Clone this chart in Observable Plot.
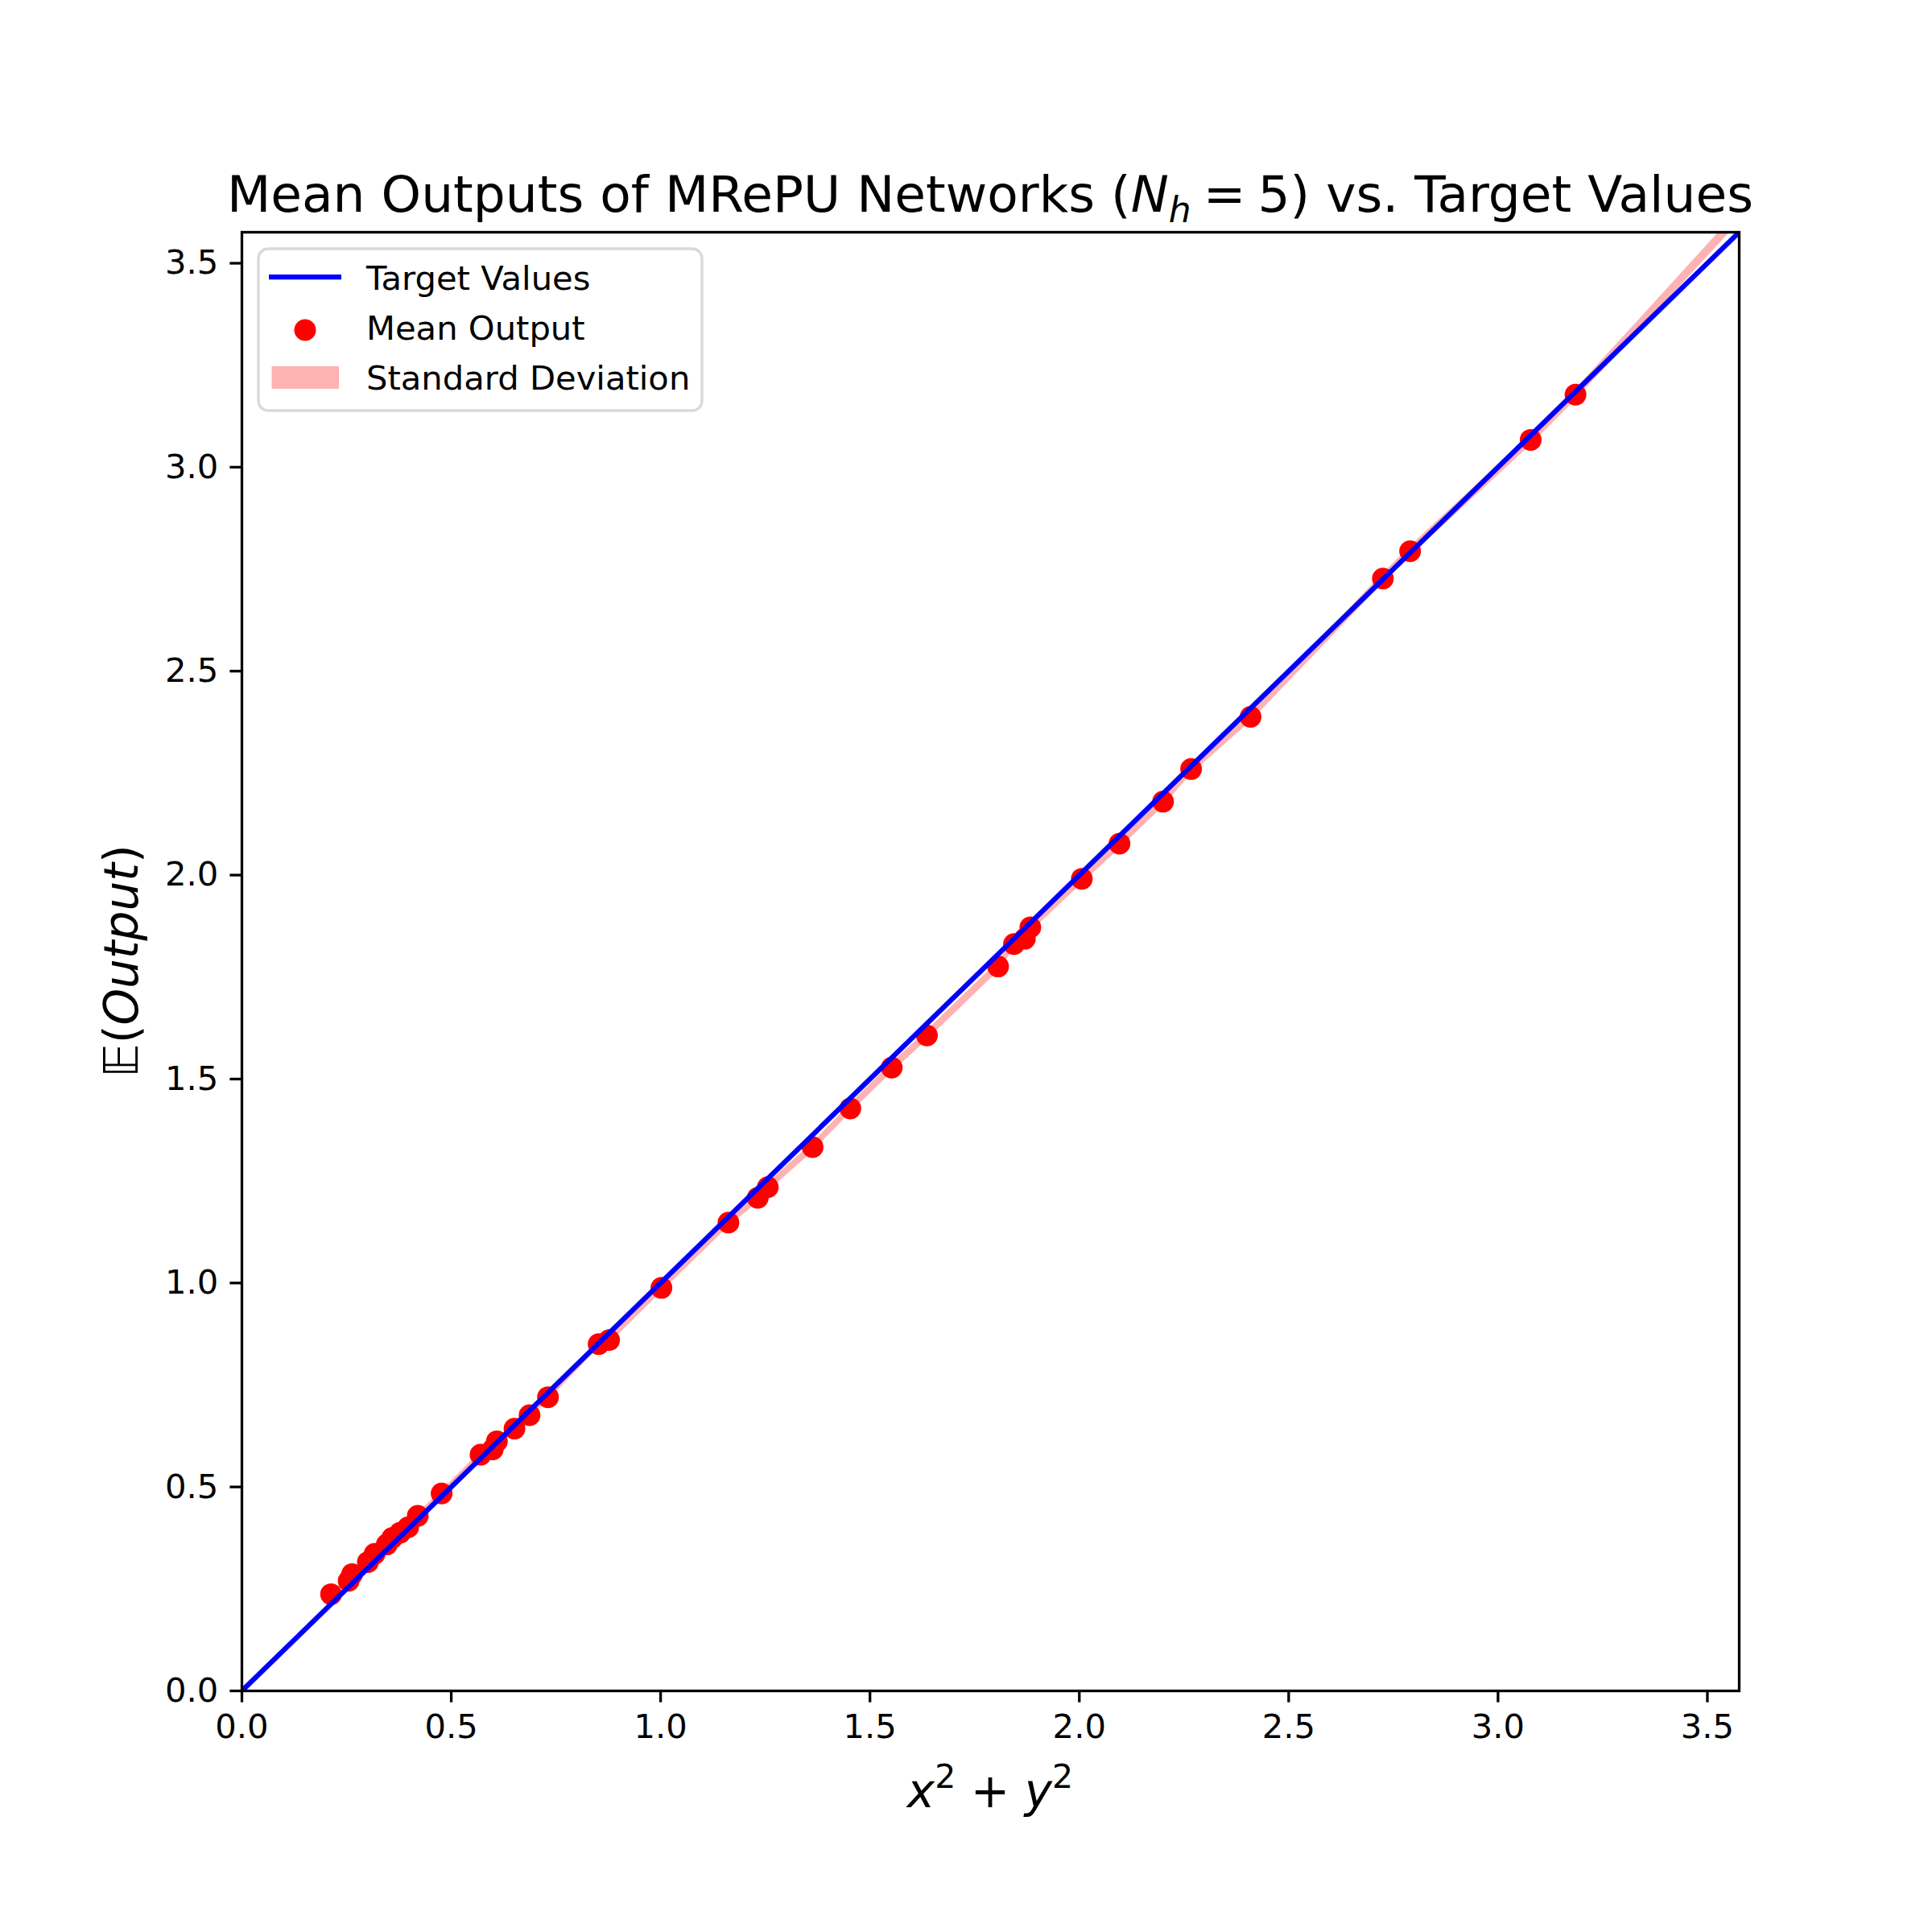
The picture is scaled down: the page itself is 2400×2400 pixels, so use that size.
<!DOCTYPE html>
<html><head><meta charset="utf-8">
<script src="https://cdn.jsdelivr.net/npm/d3@7"></script>
<script src="https://cdn.jsdelivr.net/npm/@observablehq/plot@0.6"></script>
<style>
html,body{margin:0;padding:0;background:#fff;}
#chart{position:relative;width:2400px;height:2400px;}
</style></head><body><div id="chart"></div>
<script>
// Target values (x^2 + y^2), sorted
const targets = [0.213,0.255,0.263,0.301,0.317,0.346,0.359,0.378,0.397,0.420,0.477,0.570,0.599,0.609,0.651,0.687,0.731,0.852,0.877,1.002,1.162,1.232,1.256,1.363,1.453,1.552,1.636,1.806,1.844,1.870,1.883,2.006,2.096,2.200,2.267,2.409,2.725,2.790,3.078,3.185,3.750];
// Mean network outputs
const means = [0.237,0.270,0.286,0.316,0.336,0.359,0.375,0.388,0.401,0.429,0.484,0.579,0.592,0.612,0.643,0.676,0.720,0.850,0.860,0.988,1.148,1.209,1.235,1.333,1.428,1.528,1.607,1.776,1.831,1.844,1.872,1.991,2.077,2.180,2.260,2.388,2.727,2.794,3.067,3.178,3.811];
// Standard deviations of outputs
const stds = [0.006,0.006,0.007,0.006,0.007,0.006,0.007,0.006,0.007,0.007,0.007,0.008,0.008,0.008,0.008,0.008,0.009,0.009,0.009,0.010,0.010,0.011,0.011,0.011,0.011,0.012,0.012,0.012,0.012,0.012,0.012,0.012,0.012,0.012,0.012,0.012,0.012,0.012,0.013,0.013,0.016];
const targetLine = [0, 3.75];
const xTicks = [0, 0.5, 1.0, 1.5, 2.0, 2.5, 3.0, 3.5];
const yTicks = [0, 0.5, 1.0, 1.5, 2.0, 2.5, 3.0, 3.5];
const xDomain = [0, 3.576];
const yDomain = [0, 3.576];
const legendLabels = ["Target Values", "Mean Output", "Standard Deviation"];

const data = targets.map((t, i) => ({t, m: means[i], lo: means[i] - stds[i], hi: means[i] + stds[i]}));
const fmt = d3.format(".1f");
const FONT = "DejaVu Sans";

const plot = Plot.plot({
  width: 2400, height: 2400,
  marginLeft: 300, marginRight: 240, marginTop: 288, marginBottom: 300,
  x: {domain: xDomain},
  y: {domain: yDomain},
  style: {fontFamily: FONT, background: "#fff", color: "black"},
  marks: [
    Plot.areaY(data, {x: "t", y1: "lo", y2: "hi", fill: "red", fillOpacity: 0.3, clip: true}),
    Plot.dot(data, {x: "t", y: "m", r: 13.5, fill: "red", stroke: "none", clip: true}),
    Plot.line(targetLine, {x: d => d, y: d => d, stroke: "blue", strokeWidth: 6.25, strokeLinecap: "butt", clip: true}),
    Plot.frame({stroke: "black", strokeWidth: 3.3}),
    Plot.axisX({ticks: xTicks, tickFormat: fmt, tickSize: 14.6, tickPadding: 14.6, fontSize: 41.7, strokeWidth: 3.3, label: null}),
    Plot.axisY({ticks: yTicks, tickFormat: fmt, tickSize: 14.6, tickPadding: 14.6, fontSize: 41.7, strokeWidth: 3.3, label: null})
  ]
});
document.getElementById("chart").appendChild(plot);

const svg = d3.select(plot);
// Title
const title = svg.append("text").attr("x", 1230).attr("y", 263).attr("text-anchor", "middle")
  .attr("font-family", FONT).attr("font-size", 63).attr("fill", "black");
title.append("tspan").text("Mean Outputs of MRePU Networks (");
title.append("tspan").attr("font-style", "italic").text("N");
title.append("tspan").attr("font-style", "italic").attr("font-size", 44).attr("dy", 13).text("h");
title.append("tspan").attr("dy", -13).attr("dx", 15).text("=");
title.append("tspan").attr("dx", 15).text("5) vs. Target Values");

// X label
const xl = svg.append("text").attr("x", 1230).attr("y", 2245).attr("text-anchor", "middle")
  .attr("font-family", FONT).attr("font-size", 58).attr("fill", "black");
xl.append("tspan").attr("font-style", "italic").text("x");
xl.append("tspan").attr("font-size", 41).attr("dy", -24).text("2");
xl.append("tspan").attr("dy", 24).text(" + ");
xl.append("tspan").attr("font-style", "italic").text("y");
xl.append("tspan").attr("font-size", 41).attr("dy", -24).text("2");

// Y label
const yl = svg.append("text").attr("transform", "translate(171,1194) rotate(-90)").attr("text-anchor", "middle")
  .attr("font-family", FONT).attr("font-size", 58).attr("fill", "black");
yl.append("tspan").text("\u{1D53C}(");
yl.append("tspan").attr("font-style", "italic").text("Output");
yl.append("tspan").text(")");

// Legend
const lg = svg.append("g").attr("font-family", FONT).attr("font-size", 41.7).attr("text-anchor", "start");
lg.append("rect").attr("x", 321).attr("y", 309).attr("width", 551).attr("height", 201).attr("rx", 12)
  .attr("fill", "white").attr("fill-opacity", 0.8).attr("stroke", "#d9d9d9").attr("stroke-width", 3.3);
lg.append("line").attr("x1", 334).attr("x2", 424).attr("y1", 344).attr("y2", 344).attr("stroke", "blue").attr("stroke-width", 6.25);
lg.append("circle").attr("cx", 379).attr("cy", 410).attr("r", 13.5).attr("fill", "red");
lg.append("rect").attr("x", 337.5).attr("y", 455).attr("width", 83.5).attr("height", 28).attr("fill", "red").attr("fill-opacity", 0.3);
const baselines = [360, 422, 484];
legendLabels.forEach((s, i) => {
  lg.append("text").attr("x", 455).attr("y", baselines[i]).attr("text-anchor", "start").attr("fill", "black").text(s);
});
</script></body></html>
